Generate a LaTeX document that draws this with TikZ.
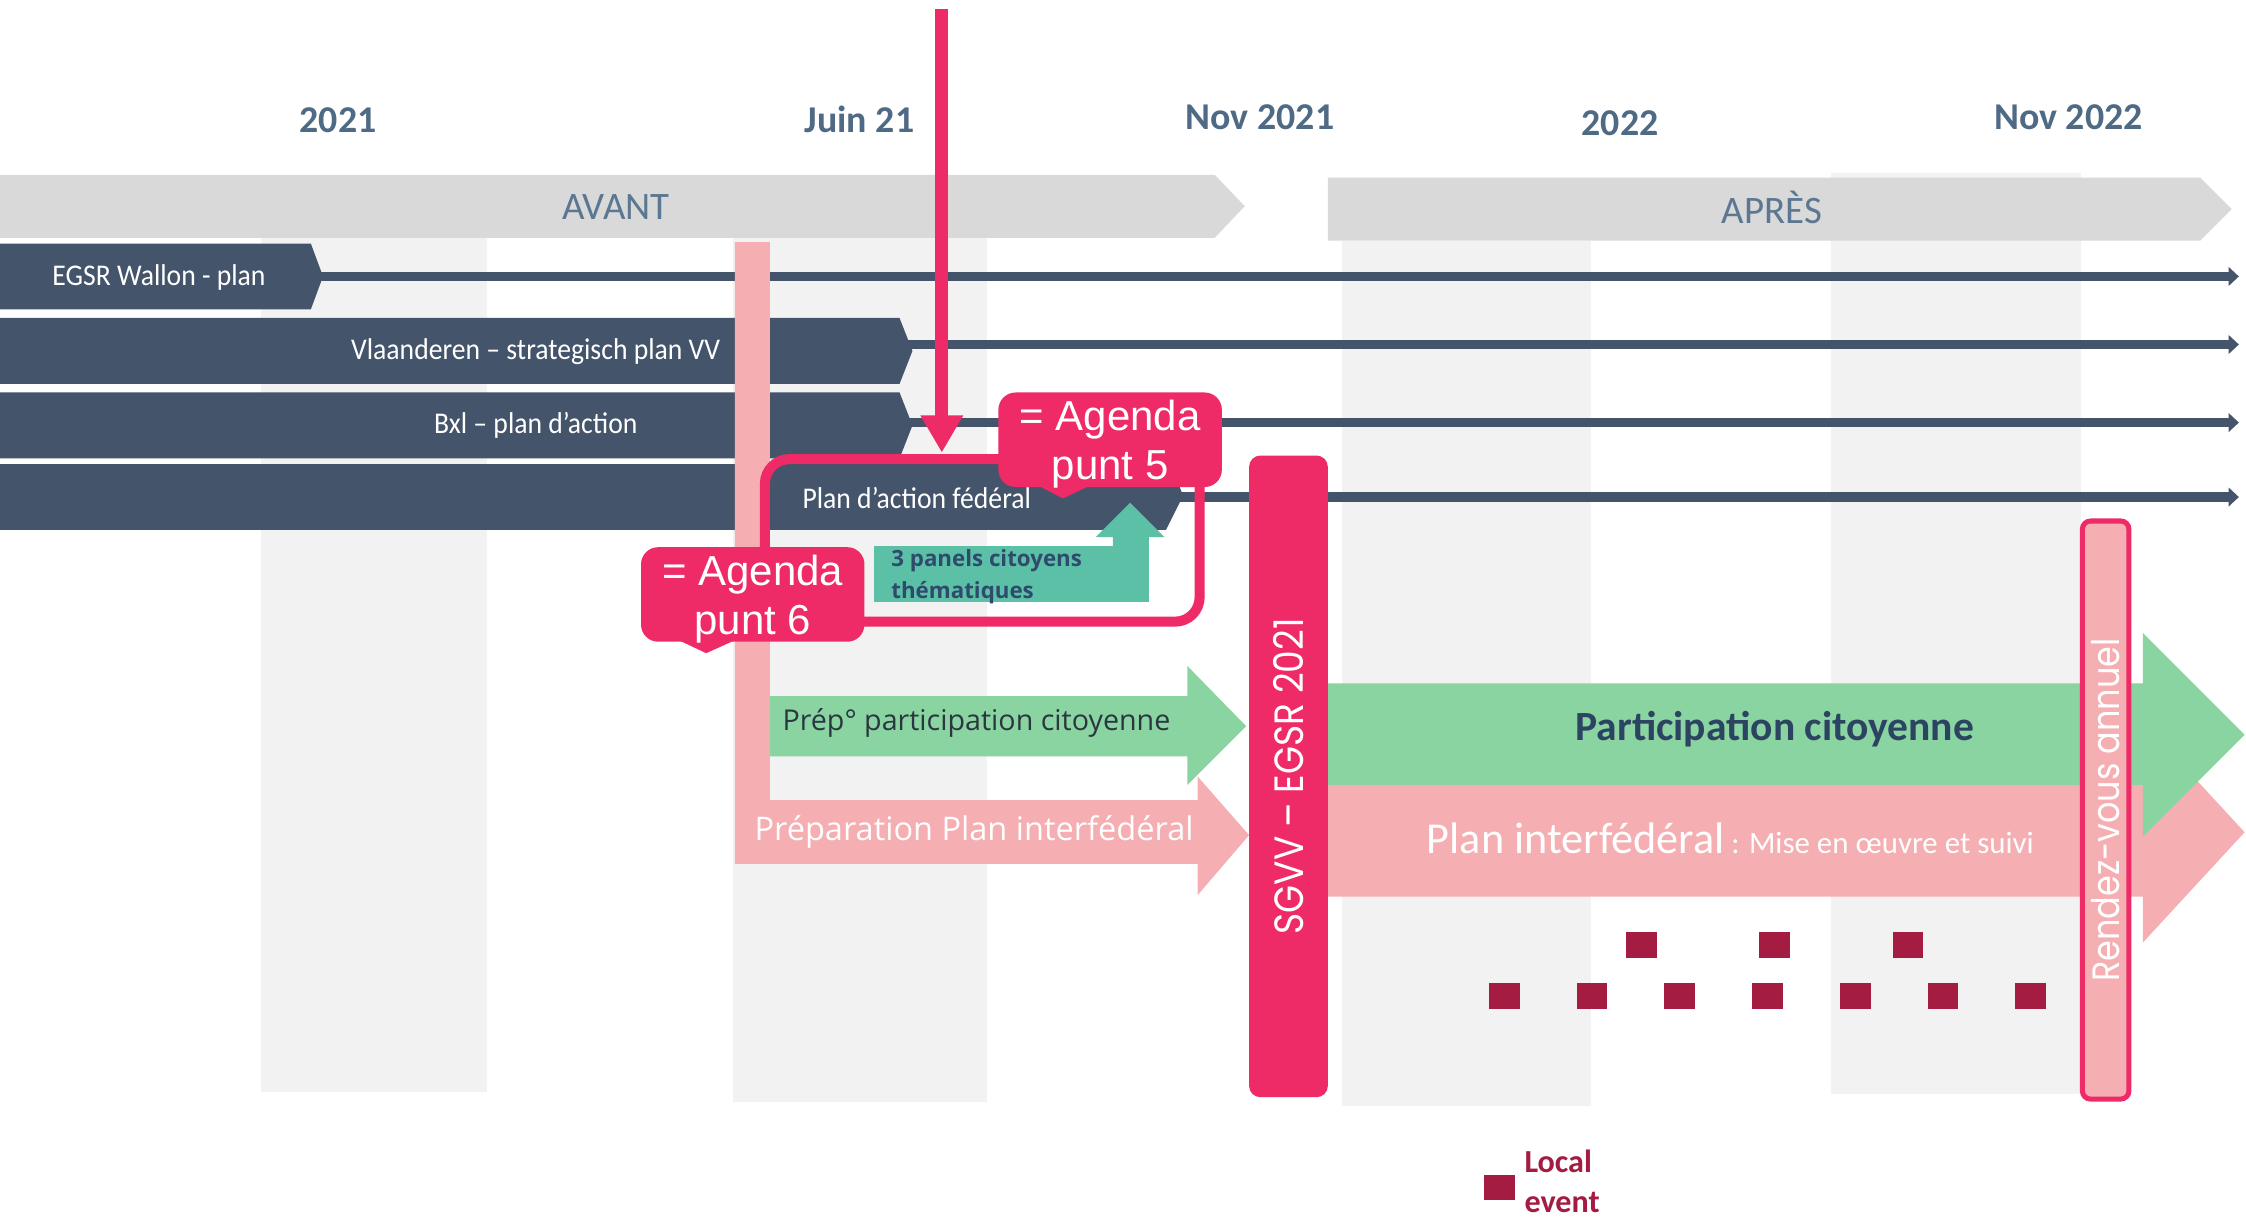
\documentclass[tikz,border=0pt]{standalone}
\usepackage{fontspec}
\setmainfont{Carlito}
\newfontfamily\arialf{Liberation Sans}
\newfontfamily\geof[FakeStretch=0.88]{Poppins}
\newfontfamily\opensf{Open Sans}
\newfontfamily\condf[FakeStretch=0.92]{Carlito}
\usetikzlibrary{arrows.meta}

\definecolor{darkbar}{HTML}{44546A}
\definecolor{hotpink}{HTML}{EE2B67}
\definecolor{lightpink}{HTML}{F5AEB1}
\definecolor{greenar}{HTML}{89D4A0}
\definecolor{tealbx}{HTML}{5CC0A7}
\definecolor{phasegray}{HTML}{D9D9D9}
\definecolor{colgray}{HTML}{F2F2F2}
\definecolor{yearblue}{HTML}{4F6A85}
\definecolor{phasetxt}{HTML}{5B7792}
\definecolor{maroon}{HTML}{A51C43}
\definecolor{partblue}{HTML}{2C4462}
\definecolor{prepdark}{HTML}{2A3640}
\definecolor{tealtxt}{HTML}{2E4A6C}

\tikzset{
  yearlbl/.style={font=\bfseries\fontsize{18.5}{22}\selectfont, text=yearblue, inner sep=0pt},
  phaselbl/.style={font=\fontsize{19}{22}\selectfont, text=phasetxt, inner sep=0pt},
  barlbl/.style={font=\condf\fontsize{14.7}{17}\selectfont, text=white, inner sep=0pt},
  track/.style={draw=darkbar, line width=4.8pt, -{Triangle[width=9pt,length=5pt]}},
  agendabox/.style={fill=hotpink, rounded corners=8.4pt,
    minimum width=109.2pt, minimum height=46.2pt, inner sep=0pt},
  agendatxt/.style={text=white, font=\arialf\fontsize{20.5}{23.8}\selectfont, align=center, inner sep=0pt},
  tealnode/.style={fill=tealbx, minimum width=134.4pt, minimum height=27.3pt, inner sep=0pt},
  tealtext/.style={text=tealtxt, font=\opensf\bfseries\fontsize{10.9}{15.4}\selectfont,
    inner sep=0pt, align=left},
  preplbl/.style={font=\opensf\fontsize{14}{17}\selectfont, text=prepdark, inner sep=0pt},
  prepalbl/.style={font=\opensf\fontsize{15.9}{18}\selectfont, text=white, inner sep=0pt},
  parttxt/.style={font=\bfseries\fontsize{20.3}{24}\selectfont, text=partblue, inner sep=0pt},
  plantxt/.style={text=white, inner sep=0pt},
  sgvvbar/.style={fill=hotpink, rounded corners=5.6pt, text=white,
    font=\geof\fontsize{20}{22}\selectfont, minimum width=313.6pt, minimum height=38.5pt, inner sep=0pt},
  rdvbar/.style={fill=lightpink, draw=hotpink, line width=2.45pt, rounded corners=4pt, text=white,
    font=\geof\fontsize{18.6}{20}\selectfont, minimum width=282.5pt, minimum height=22.75pt, inner sep=0pt},
  evt/.style={fill=maroon, minimum width=15pt, minimum height=12.6pt, inner sep=0pt},
  legtxt/.style={font=\bfseries\fontsize{15.7}{19.6}\selectfont, text=maroon, inner sep=0pt, align=left}
}

\begin{document}
\begin{tikzpicture}[x=0.7pt,y=-0.7pt]
\useasboundingbox (0,0) rectangle (1568,850.35);
\fill[white] (0,0) rectangle (1568,850.35);

% background columns
\fill[colgray] (182,122) rectangle (340,762);
\fill[colgray] (512,166) rectangle (689,769);
\fill[colgray] (937,168) rectangle (1111,772);
\fill[colgray] (1278,121) rectangle (1453,764);

% year labels
\node[yearlbl, anchor=base] (y2021) at (236,92.2) {2021};
\node[yearlbl, anchor=base] (yjuin) at (600,92.2) {Juin 21};
\node[yearlbl, anchor=base] (ynov21) at (879.6,90.3) {Nov 2021};
\node[yearlbl, anchor=base] (y2022) at (1131,94.4) {2022};
\node[yearlbl, anchor=base] (ynov22) at (1444,90.3) {Nov 2022};

% phase bars
\fill[phasegray] (0,122) -- (848,122) -- (869,144) -- (848,166) -- (0,166) -- cycle;
\fill[phasegray] (927,124) -- (1536,124) -- (1558,146) -- (1536,168) -- (927,168) -- cycle;
\node[phaselbl, anchor=base] (avant) at (430,153) {AVANT};
\node[phaselbl, anchor=base] (apres) at (1237,156) {APRÈS};

% dark bars
\fill[darkbar] (0,170) -- (217,170) -- (225.5,193) -- (217,216) -- (0,216) -- cycle;
\fill[darkbar] (0,222) -- (628,222) -- (637,245) -- (628,268) -- (0,268) -- cycle;
\fill[darkbar] (0,274) -- (628,274) -- (637,297) -- (628,320) -- (0,320) -- cycle;
\fill[darkbar] (0,324) -- (817,324) -- (826,346) -- (814,370) -- (0,370) -- cycle;

\coordinate (t1s) at (223,193);   \coordinate (t1e) at (1563,193);
\coordinate (t2s) at (634,240.5); \coordinate (t2e) at (1563,240.5);
\coordinate (t3s) at (634,295);   \coordinate (t3e) at (1563,295);
\coordinate (t4s) at (823,347);   \coordinate (t4e) at (1563,347);
\draw[track] (t1s) -- (t1e);
\draw[track] (t2s) -- (t2e);
\draw[track] (t3s) -- (t3e);
\draw[track] (t4s) -- (t4e);

\node[barlbl] (wallon) at (111,194) {EGSR Wallon - plan};
\node[barlbl] (vlaan) at (374,245.4) {Vlaanderen – strategisch plan VV};
\node[barlbl] (bxl) at (374,297) {Bxl – plan d’action};

% pink L-shape: vertical bar + preparation arrow
\fill[lightpink] (513,169) -- (537.5,169) -- (537.5,558.5) -- (836,558.5) -- (836,542)
  -- (872,583) -- (836,625) -- (836,603) -- (513,603) -- cycle;
% green prep arrow
\fill[greenar] (537.5,486) -- (829,486) -- (829,465) -- (870,507) -- (829,548) -- (829,528)
  -- (537.5,528) -- cycle;
\node[preplbl, anchor=west] (prep) at (546,505) {Prép° participation citoyenne};
\node[prepalbl, anchor=west] (prepa) at (526.5,580.6) {Préparation Plan interfédéral};

% pink outline round federal plan
\draw[hotpink, line width=4.9pt, rounded corners=12pt] (534,320.5) rectangle (837.5,434);
\node[barlbl] (fed) at (640,347.7) {Plan d’action fédéral};

% teal panels box with up arrow
\fill[tealbx] (777,382) -- (777,375) -- (765,375) -- (789,351) -- (813,375) -- (802,375) -- (802,382) -- cycle;
\node[tealnode] (panels) at (706,400.5) {};
\node[tealtext, anchor=west] (panelstxt) at (622,402.5) {3 panels citoyens\\thématiques};

% top pink arrow
\coordinate (agtop) at (657.5,6);
\coordinate (agtip) at (657.5,316);
\draw[hotpink, line width=6.3pt, -{Triangle[width=19.6pt,length=18.2pt]}] (agtop) -- (agtip);

% agenda callouts
\node[agendabox] (ag5) at (775,307) {};
\fill[hotpink] (725,339) -- (742,348) -- (761,339) -- cycle;
\node[agendatxt] (ag5t) at (775,310) {= Agenda\\punt 5};
\node[agendabox] (ag6) at (525.5,415) {};
\fill[hotpink] (474,447) -- (493,456) -- (513,447) -- cycle;
\node[agendatxt] (ag6t) at (525.5,418.5) {= Agenda\\punt 6};

% big arrows after SGVV
\fill[lightpink] (920,548) -- (1496,548) -- (1496,504) -- (1567,581) -- (1496,658) -- (1496,626)
  -- (920,626) -- cycle;
\fill[greenar] (920,477) -- (1496,477) -- (1496,442) -- (1567,513) -- (1496,584) -- (1496,548)
  -- (920,548) -- cycle;
\node[parttxt] (part) at (1239,509) {Participation citoyenne};
\node[plantxt, anchor=base] (plan) at (1208,595.6)
  {\fontsize{21.6}{25}\selectfont Plan interfédéral\fontsize{15.1}{18}\selectfont{} : Mise en œuvre et suivi};

% SGVV bar
\node[sgvvbar, rotate=90] (sgvv) at (899.5,542) {SGVV – EGSR 2021};

% Rendez-vous annuel bar
\node[rdvbar, rotate=90] (rdv) at (1470,565.5) {Rendez-vous annuel};

% local events
\foreach \i/\xx in {1/1146,2/1239,3/1332}
  \node[evt] (ea\i) at (\xx,659.7) {};
\foreach \i/\xx in {1/1050.3,2/1111.5,3/1172.5,4/1234,5/1295.3,6/1356.4,7/1417.4}
  \node[evt] (eb\i) at (\xx,695.4) {};

% legend
\node[evt] (legsq) at (1047,829) {};
\node[legtxt, anchor=west] (leg) at (1064,825) {Local\\event};
\end{tikzpicture}
\end{document}
